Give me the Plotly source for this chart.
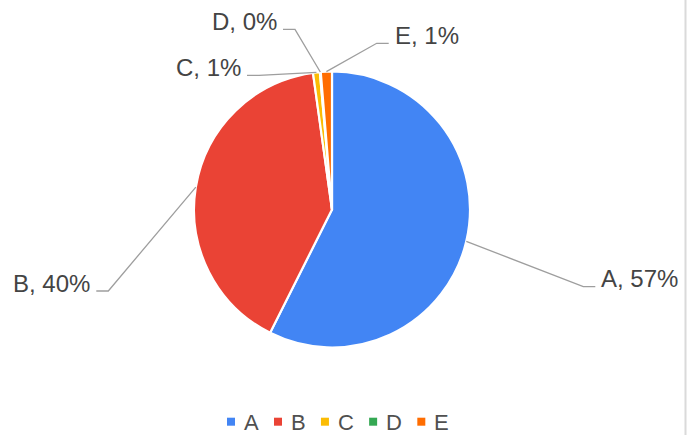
import math
import plotly.graph_objects as go

# ---- data ----
categories = ["A", "B", "C", "D", "E"]
values = [57.4, 40.4, 0.8, 0.1, 1.3]

# ---- styles ----
colors = ["#4285F4", "#EA4335", "#FBBC04", "#34A853", "#FF6D01"]
W, H = 695, 435
CX, CY, R = 332.0, 209.5, 138.0          # pie centre / radius in pixels
FONT = "Liberation Sans, Arial, sans-serif"
LABEL_COLOR = "#444444"
LEGEND_COLOR = "#505050"
LINE_COLOR = "#9e9e9e"
# label elbow placement (pixel offsets from pie centre) and side
label_layout = {
    "A": (251.3, 77.2, "right"),
    "B": (-223.7, 81.5, "left"),
    "C": (-73.0, -134.2, "left"),
    "D": (-37.0, -180.2, "left"),
    "E": (44.7, -166.2, "right"),
}
TAIL = 12     # horizontal segment length
GAP = 5       # gap between tail and text


def px(x):
    return x / W


def py(y):
    return 1 - y / H


fig = go.Figure()
fig.add_trace(go.Pie(
    labels=categories,
    values=values,
    sort=False,
    direction="clockwise",
    rotation=0,
    marker=dict(colors=colors, line=dict(color="white", width=2.2)),
    textinfo="none",
    hoverinfo="label+percent",
    showlegend=False,
    domain=dict(x=[px(CX - R), px(CX + R)], y=[py(CY + R), py(CY - R)]),
))

shapes = []
annotations = []
total = sum(values)
cum = 0.0
for cat, v in zip(categories, values):
    mid = (cum + v / 2) / total * 2 * math.pi
    cum += v
    ex = CX + R * math.sin(mid)
    ey = CY - R * math.cos(mid)
    dx, dy, side = label_layout[cat]
    bx, by = CX + dx, CY + dy
    tx = bx + TAIL if side == "right" else bx - TAIL
    path = f"M {px(ex)},{py(ey)} L {px(bx)},{py(by)} L {px(tx)},{py(by)}"
    shapes.append(dict(type="path", xref="paper", yref="paper", path=path,
                       line=dict(color=LINE_COLOR, width=1.3)))
    pct = round(v / total * 100)
    annotations.append(dict(
        text=f"{cat}, {pct}%",
        xref="paper", yref="paper",
        x=px(tx + GAP if side == "right" else tx - GAP),
        y=py(by + 0.5 - 8.3),
        xanchor="left" if side == "right" else "right",
        yanchor="middle",
        showarrow=False, borderpad=0,
        font=dict(family=FONT, size=24, color=LABEL_COLOR),
    ))

# ---- manual legend ----
LEG_FS = 22
char_w = {"A": 0.667, "B": 0.667, "C": 0.722, "D": 0.722, "E": 0.667}
lx = 227.0
LY = 421.7      # vertical centre of legend row
for cat, col in zip(categories, colors):
    shapes.append(dict(type="rect", xref="paper", yref="paper",
                       x0=px(lx), x1=px(lx + 8), y0=py(LY + 4), y1=py(LY - 4),
                       fillcolor=col, line=dict(width=0)))
    annotations.append(dict(
        text=cat, xref="paper", yref="paper",
        x=px(lx + 16), y=py(LY + 0.3), xanchor="left", yanchor="middle",
        showarrow=False, borderpad=0,
        font=dict(family=FONT, size=LEG_FS, color=LEGEND_COLOR),
    ))
    lx += 16 + char_w.get(cat, 0.667) * LEG_FS + 16.3

# right border line
shapes.append(dict(type="line", xref="paper", yref="paper",
                   x0=px(685.5), x1=px(685.5), y0=0, y1=1,
                   line=dict(color="#dadada", width=2)))

fig.update_layout(
    width=W, height=H,
    margin=dict(l=0, r=0, t=0, b=0),
    paper_bgcolor="white", plot_bgcolor="white",
    shapes=shapes, annotations=annotations,
    showlegend=False,
)

fig.write_html(
    "out.html",
    config={"displayModeBar": False},
    post_script="document.body.style.margin='0';document.body.style.padding='0';"
                "document.body.style.overflow='hidden';",
)
